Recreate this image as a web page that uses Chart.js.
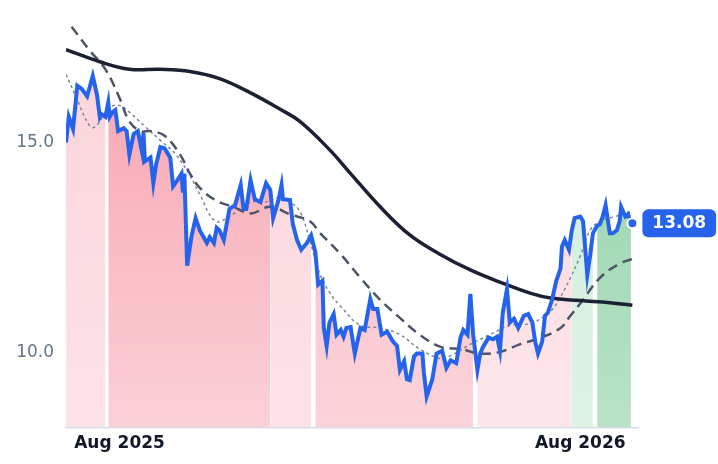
<!DOCTYPE html>
<html><head><meta charset="utf-8">
<script src="https://cdn.jsdelivr.net/npm/chart.js@4"></script>
<style>html,body{margin:0;padding:0;background:#fff}#w{width:718px;height:464px}</style>
</head><body><div id="w"><canvas id="c"></canvas></div>
<script>
const priceDays=[0,2,5,8,11,15,19,22,24,25,28,30,31,33,35,37,41,43,45,48,51,54,55,56,60,62,64,67,70,74,76,79,82,83,84,86,89,92,95,100,102,105,107,109,112,116,120,124,126,128,131,134,138,142,145,147,151,153,154,159,161,164,167,171,174,177,179,182,183,185,187,190,192,195,197,199,202,205,209,212,216,218,221,224,228,232,235,237,240,242,244,247,249,253,254,256,260,263,267,270,273,277,280,282,285,287,289,292,294,296,300,303,306,308,310,313,315,318,321,325,328,331,333,335,338,340,342,345,348,351,352,354,357,359,361,365,367,370,372,374,377,379,381,383,386,388,391,393,394,397,399,401];
const priceVals=[15.00,15.61,15.32,16.35,16.28,16.10,16.58,16.13,15.61,15.68,15.61,15.95,15.61,15.72,15.77,15.27,15.34,15.27,14.71,15.20,15.27,14.77,15.23,14.55,14.64,14.03,14.48,14.89,14.86,14.64,13.96,14.10,14.26,13.81,14.26,12.07,12.75,13.20,12.91,12.61,12.75,12.61,12.97,12.91,12.68,13.42,13.51,13.99,13.42,13.42,14.10,13.65,13.58,14.03,13.87,13.20,13.65,13.99,13.65,13.63,13.06,12.68,12.45,12.61,12.79,12.39,11.62,11.71,10.59,10.16,10.72,10.92,10.43,10.54,10.38,10.59,10.61,9.98,10.59,10.54,11.28,11.04,11.04,10.43,10.50,10.27,10.16,9.59,9.80,9.37,9.35,9.91,9.98,9.98,9.53,8.96,9.37,9.98,10.05,9.64,9.82,9.75,10.36,10.54,10.43,11.40,10.43,9.59,9.98,10.14,10.36,10.32,10.38,10.05,10.95,11.51,10.72,10.81,10.59,10.88,10.92,10.72,10.27,9.98,10.27,10.88,10.95,11.26,11.71,12.00,12.52,12.68,12.45,12.91,13.20,13.24,13.13,11.85,12.30,12.84,13.02,13.06,13.24,13.51,12.84,12.84,12.91,13.13,13.47,13.24,13.29,13.08];
const longDays=[0,24,45,67,88,109,131,152,166,187,202,223,244,265,287,308,330,344,365,386,402];
const longVals=[17.21,16.92,16.74,16.74,16.69,16.52,16.18,15.79,15.50,14.83,14.26,13.47,12.80,12.35,11.97,11.68,11.41,11.30,11.24,11.19,11.13];
const midDays=[4,17,28,38,45,53,60,70,81,88,95,106,120,131,145,159,173,180,195,209,223,237,251,266,280,294,308,322,337,351,358,365,379,393,402];
const midVals=[17.75,17.18,16.74,16.06,15.50,15.27,15.27,15.16,14.71,14.26,13.92,13.63,13.45,13.31,13.47,13.29,13.13,12.86,12.34,11.78,11.26,10.83,10.43,10.14,10.09,9.98,10.02,10.20,10.36,10.59,10.88,11.17,11.78,12.12,12.23];
const shortDays=[0,6,17,21,31,38,45,56,67,78,88,95,106,116,131,141,152,159,166,173,180,187,195,209,223,237,251,266,273,287,301,315,330,344,351,358,365,372,379,390,400];
const shortVals=[16.62,16.17,15.38,15.38,15.83,15.88,15.72,15.38,15.05,14.71,14.21,13.76,13.13,13.24,13.58,13.58,13.69,13.58,13.36,12.68,11.89,11.44,11.10,10.65,10.59,10.43,10.09,9.86,9.93,10.20,10.43,10.65,10.70,10.99,11.33,11.78,12.30,12.91,13.13,13.24,13.36];
const regionBounds=[[0,29],[29,145],[145,175],[175,291],[291,359],[359,375],[375,402]];
const regionColors=[['#fbd3da','#fce3e7'],['#f7a1ae','#fbd0d7'],['#fbd3da','#fce3e7'],['#f8b3bf','#fbd3da'],['#fcd6dd','#fde6ea'],['#cdeedb','#dcf3e5'],['#8ed0a4','#b9e3c7']];
const xTickDays=[38,365];
const xTickLabels=['Aug 2025','Aug 2026'];
const yTicks=[10,15];
const lastValue=13.08;

const pts=(d,v)=>d.map((x,i)=>({x,y:v[i]}));
const price=pts(priceDays,priceVals);
const fills=regionBounds.map((b,i)=>({
  data:price.filter(p=>p.x>=b[0]&&p.x<=b[1]),
  borderWidth:0,pointRadius:0,fill:'start',order:10,
  backgroundColor:(ctx)=>{const a=ctx.chart.chartArea;if(!a)return regionColors[i][0];
    const g=ctx.chart.ctx.createLinearGradient(0,a.top,0,a.bottom);g.addColorStop(0,regionColors[i][0]);g.addColorStop(1,regionColors[i][1]);return g;}
}));
const labelPlugin={id:'lbl',afterDatasetsDraw(ch){
  const c=ch.ctx,xs=ch.scales.x,ys=ch.scales.y;
  const x=xs.getPixelForValue(402),y=ys.getPixelForValue(lastValue);
  c.save();c.beginPath();c.arc(x,y,5,0,Math.PI*2);c.fillStyle='#2563eb';c.fill();c.lineWidth=2;c.strokeStyle='#fff';c.stroke();
  c.font='bold 17px "DejaVu Sans"';const t=lastValue.toFixed(2),w=c.measureText(t).width+20;
  const bx=x+10,by=y-14;c.beginPath();c.roundRect(bx,by,w,28,6);c.fillStyle='#2563eb';c.fill();
  c.fillStyle='#fff';c.textBaseline='middle';c.fillText(t,bx+10,y+0.5);c.restore();}};
new Chart(document.getElementById('c'),{type:'line',
 data:{datasets:[
  {data:price,borderColor:'#2563eb',borderWidth:4,pointRadius:0,tension:0,order:1},
  {data:pts(longDays,longVals),borderColor:'#1c2033',borderWidth:3.5,pointRadius:0,tension:0.4,order:2},
  {data:pts(midDays,midVals),borderColor:'#4b5566',borderWidth:2.5,borderDash:[10,6],pointRadius:0,tension:0.4,order:3},
  {data:pts(shortDays,shortVals),borderColor:'#7d8796',borderWidth:1.5,borderDash:[3,3],pointRadius:0,tension:0.4,order:4},
  ...fills]},
 options:{responsive:true,maintainAspectRatio:false,animation:false,
  layout:{padding:{right:80,top:0,left:0,bottom:4}},
  plugins:{legend:{display:false},tooltip:{enabled:false}},
  scales:{
   x:{type:'linear',min:0,max:406,grid:{display:false,drawTicks:false},border:{color:'#d8dde5',width:1.5},
     afterBuildTicks:(s)=>{s.ticks=xTickDays.map(v=>({value:v}));},
     ticks:{padding:6,color:'#111827',font:{family:'DejaVu Sans',size:17,weight:'bold'},maxRotation:0,autoSkip:false,
       callback:(v)=>xTickLabels[xTickDays.indexOf(v)]}},
   y:{min:8.22,max:17.86,grid:{display:false,drawTicks:false},border:{display:false},
     afterBuildTicks:(s)=>{s.ticks=yTicks.map(v=>({value:v}));},
     afterFit:(s)=>{s.width=66;},
     ticks:{padding:12,color:'#64748b',font:{family:'DejaVu Sans',size:17},callback:(v)=>v.toFixed(1)}}
  }},
 plugins:[labelPlugin]});
</script></body></html>
